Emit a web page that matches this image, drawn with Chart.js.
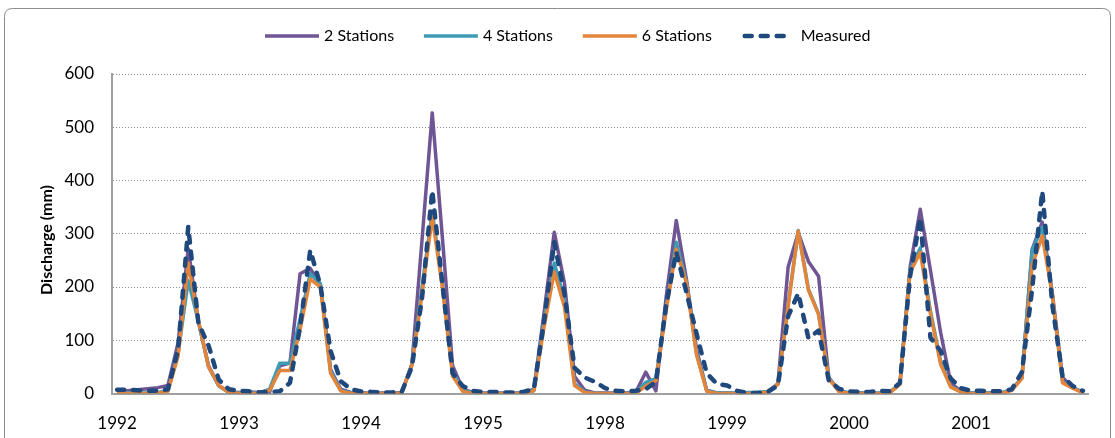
<!DOCTYPE html>
<html>
<head>
<meta charset="utf-8">
<script src="https://cdn.jsdelivr.net/npm/chart.js@4.4.1/dist/chart.umd.min.js"></script>
<style>
  html, body { margin: 0; padding: 0; background: #ffffff; }
  #wrap { width: 1115px; height: 438px; position: relative; }
  canvas { display: block; }
</style>
</head>
<body>
<div id="wrap"><canvas id="chart" width="1115" height="438"></canvas></div>
<script>
// Years shown on the time axis (12 monthly values each)
const years = ['1992', '1993', '1994', '1995', '1998', '1999', '2000', '2001'];
const seriesNames = ['2 Stations', '4 Stations', '6 Stations', 'Measured'];
const yTicks = [0, 100, 200, 300, 400, 500, 600];

// Monthly discharge (mm), simulated with rain gauges from 2 stations
const stations2 = [
  3, 5, 7, 9, 11, 15, 95, 272, 135, 52, 15, 3,        // 1992
  2, 3, 2, 3, 52, 57, 225, 235, 205, 45, 8, 2,        // 1993
  1, 1, 1, 1, 2, 55, 290, 527, 292, 52, 8, 2,         // 1994
  1, 1, 1, 1, 1, 8, 152, 303, 208, 32, 6, 1,          // 1995
  1, 1, 1, 2, 40, 5, 180, 325, 215, 83, 6, 1,         // 1998
  1, 0, 0, 0, 4, 18, 237, 302, 248, 220, 30, 5,       // 1999
  1, 1, 1, 0, 2, 18, 237, 346, 232, 115, 20, 4,       // 2000
  1, 1, 1, 1, 7, 30, 270, 322, 187, 30, 11, 2         // 2001
];

// Simulated with 4 stations
const stations4 = [
  1, 1, 1, 1, 2, 5, 75, 212, 135, 50, 14, 2,
  1, 1, 1, 8, 57, 57, 140, 225, 206, 42, 6, 1,
  0, 0, 0, 0, 1, 55, 200, 341, 205, 40, 6, 1,
  0, 0, 0, 0, 1, 6, 138, 245, 178, 18, 3, 0,
  0, 0, 0, 1, 21, 28, 160, 284, 210, 75, 5, 1,
  1, 1, 2, 2, 4, 18, 166, 306, 196, 150, 30, 5,
  1, 1, 1, 1, 2, 18, 232, 273, 155, 60, 13, 3,
  1, 1, 1, 1, 7, 30, 268, 312, 182, 22, 11, 2
];

// Simulated with 6 stations
const stations6 = [
  0, 0, 0, 0, 1, 4, 70, 245, 137, 50, 15, 2,
  0, 0, 0, 6, 43, 43, 120, 215, 200, 38, 5, 0,
  0, 0, 0, 0, 1, 53, 187, 332, 198, 33, 4, 0,
  0, 0, 0, 0, 0, 5, 125, 228, 163, 15, 2, 0,
  0, 0, 0, 0, 14, 24, 155, 271, 208, 72, 4, 0,
  0, 0, 0, 0, 3, 17, 163, 305, 194, 148, 28, 4,
  0, 0, 0, 0, 1, 17, 228, 265, 150, 55, 12, 3,
  0, 0, 0, 0, 6, 28, 240, 296, 185, 20, 10, 1
];

// Observed discharge
const measured = [
  7, 7, 6, 5, 5, 8, 82, 313, 132, 90, 26, 8,
  5, 4, 2, 3, 4, 20, 125, 269, 203, 80, 23, 8,
  4, 3, 2, 2, 3, 50, 180, 381, 205, 38, 14, 5,
  3, 3, 2, 2, 3, 9, 135, 284, 188, 48, 30, 22,
  10, 5, 4, 5, 8, 22, 165, 266, 190, 112, 38, 18,
  15, 5, 1, 1, 3, 15, 145, 188, 104, 118, 25, 9,
  4, 3, 3, 5, 4, 20, 220, 330, 105, 80, 28, 10,
  5, 5, 4, 4, 8, 40, 195, 380, 165, 32, 14, 5
];

const colors = ['#6f5594', '#3d9bb6', '#e3843b', '#1f497d'];

// One category per month
const labels = [];
years.forEach(y => {
  for (let m = 1; m <= 12; m++) labels.push(y + '-' + String(m).padStart(2, '0'));
});

const FONT = "Lato, 'Open Sans', sans-serif";
Chart.defaults.font.family = FONT;
Chart.defaults.color = '#000000';

// Rounded outer frame around the whole chart
const framePlugin = {
  id: 'frame',
  beforeDraw(chart) {
    const ctx = chart.ctx;
    ctx.save();
    ctx.fillStyle = '#ffffff';
    ctx.fillRect(0, 0, chart.width, chart.height);
    ctx.strokeStyle = '#8c8c8c';
    ctx.lineWidth = 1;
    const x = 4.5, y = 8.5, w = 1106, h = 460, r = 8;
    ctx.beginPath();
    ctx.moveTo(x + r, y);
    ctx.lineTo(x + w - r, y);
    ctx.quadraticCurveTo(x + w, y, x + w, y + r);
    ctx.lineTo(x + w, y + h);
    ctx.moveTo(x, y + h);
    ctx.lineTo(x, y + r);
    ctx.quadraticCurveTo(x, y, x + r, y);
    ctx.stroke();
    ctx.restore();
  }
};

// Legend row with line samples, and the rotated y-axis title
const legendPlugin = {
  id: 'lineLegend',
  afterDraw(chart) {
    const ctx = chart.ctx;
    ctx.save();
    const y = 36;
    const startX = 265, step = 158.9, lineLen = 54;
    chart.data.datasets.forEach((ds, i) => {
      const x0 = startX + i * step;
      const dashed = !!ds.borderDash;
      ctx.beginPath();
      ctx.strokeStyle = ds.borderColor;
      ctx.lineWidth = ds.borderWidth;
      ctx.lineCap = ds.borderCapStyle || 'butt';
      ctx.setLineDash(ds.borderDash || []);
      ctx.moveTo(x0 + (dashed ? 3 : 0), y);
      ctx.lineTo(x0 + (dashed ? 48 : lineLen), y);
      ctx.stroke();
      ctx.setLineDash([]);
      ctx.fillStyle = '#000000';
      ctx.font = '16px ' + FONT;
      ctx.textAlign = 'left';
      ctx.textBaseline = 'middle';
      ctx.fillText(ds.label, x0 + lineLen + 5, y);
    });
    ctx.translate(47, 240);
    ctx.rotate(-Math.PI / 2);
    ctx.font = 'bold 16px ' + FONT;
    ctx.textAlign = 'center';
    ctx.textBaseline = 'middle';
    ctx.fillText('Discharge (mm)', 0, 0);
    ctx.restore();
  }
};

const seriesValues = [stations2, stations4, stations6, measured];
const datasets = seriesValues.map((vals, i) => {
  const isMeasured = i === 3;
  return {
    label: seriesNames[i],
    data: vals,
    borderColor: colors[i],
    backgroundColor: colors[i],
    borderWidth: isMeasured ? 4.5 : 3.5,
    borderDash: isMeasured ? [7, 9] : undefined,
    borderCapStyle: isMeasured ? 'round' : 'butt',
    borderJoinStyle: 'round',
    pointRadius: 0,
    pointHoverRadius: 0,
    tension: 0,
    fill: false,
    order: 3 - i
  };
});

new Chart(document.getElementById('chart'), {
  type: 'line',
  data: { labels, datasets },
  options: {
    responsive: false,
    animation: false,
    devicePixelRatio: 1,
    layout: { padding: { left: 0, top: 74, right: 27, bottom: 0 } },
    plugins: {
      legend: { display: false },
      tooltip: { enabled: false }
    },
    scales: {
      x: {
        type: 'category',
        offset: true,
        grid: { display: false, drawTicks: false },
        border: { display: true, color: '#a0a0a0', width: 2 },
        ticks: {
          autoSkip: false,
          maxRotation: 0,
          minRotation: 0,
          padding: 20,
          font: { size: 17 },
          callback: (val, idx) => (idx % 12 === 0 ? years[idx / 12] : '')
        },
        afterFit(scale) { scale.height = 44.5; }
      },
      y: {
        min: 0,
        max: 600,
        afterBuildTicks(scale) { scale.ticks = yTicks.map(v => ({ value: v })); },
        grid: { color: '#8a8a8a', lineWidth: 1, drawTicks: false },
        border: { display: true, color: '#a0a0a0', width: 2, dash: [1, 2] },
        ticks: { padding: 18, font: { size: 17 } },
        afterFit(scale) { scale.width = 112; }
      }
    }
  },
  plugins: [framePlugin, legendPlugin]
});
</script>
</body>
</html>
